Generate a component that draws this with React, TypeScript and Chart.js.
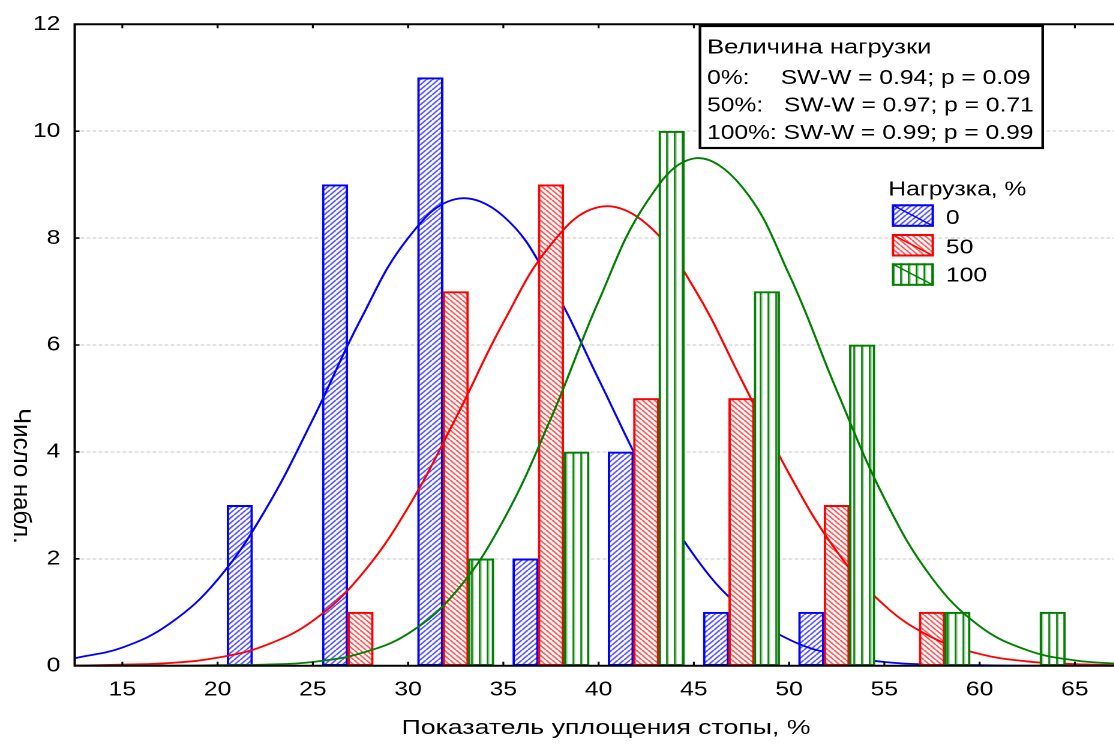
import { useEffect, useRef } from "react";
import { Chart, registerables } from "chart.js";

Chart.register(...registerables);

// Histogram bins (class midpoints, %) and observation counts per load group
const binCenters = [22.5, 27.5, 32.5, 37.5, 42.5, 47.5, 52.5, 57.5, 62.5];
const counts0 = [3, 9, 11, 2, 4, 1, 1, 0, 0];
const counts50 = [0, 1, 7, 9, 5, 5, 3, 1, 0];
const counts100 = [0, 0, 2, 4, 10, 7, 6, 1, 1];

// Fitted normal curves (expected counts)
const curveX = [12.5, 15, 17.5, 20, 22.5, 25, 27.5, 30, 32.5, 35, 37.5, 40, 42.5, 45, 47.5, 50, 52.5, 55, 57.5, 60, 62.5, 65, 67.5];
const fit0 = [0.14, 0.34, 0.79, 1.61, 2.91, 4.61, 6.47, 8.0, 8.73, 8.41, 7.15, 5.36, 3.55, 2.07, 1.07, 0.49, 0.2, 0.07, 0.02, 0.01, 0, 0, 0];
const fit50 = [0, 0.02, 0.05, 0.15, 0.38, 0.84, 1.68, 2.96, 4.63, 6.42, 7.88, 8.58, 8.27, 7.07, 5.35, 3.59, 2.14, 1.13, 0.53, 0.22, 0.08, 0.03, 0.01];
const fit100 = [0, 0, 0, 0.01, 0.02, 0.07, 0.23, 0.6, 1.38, 2.72, 4.63, 6.82, 8.66, 9.49, 8.97, 7.32, 5.15, 3.13, 1.64, 0.74, 0.29, 0.1, 0.03];

const xTicks = [15, 20, 25, 30, 35, 40, 45, 50, 55, 60, 65];
const yTicks = [0, 2, 4, 6, 8, 10, 12];

const groupLabels = ["0", "50", "100"];
const swGroups = ["0%:", "50%:", "100%:"];
const swW = ["0.94", "0.97", "0.99"];
const swP = ["0.09", "0.71", "0.99"];

const statsTitle = "Величина нагрузки";
const legendTitle = "Нагрузка, %";
const xTitle = "Показатель уплощения стопы, %";
const yTitle = "Число набл.";

const BLUE = "#0000ff";
const RED = "#ff0000";
const GREEN = "#008000";
const FONT = '"Liberation Sans", Arial, sans-serif';
const FS = 20.5;
const DPR = 2;
const STRETCH = 1.2;

// three bars side by side inside each 5-unit class
const slot = 4 / 3;

function makePattern(kind: "fwd" | "back" | "vert", color: string, w: number, h: number): CanvasPattern {
  const c = document.createElement("canvas");
  c.width = Math.round(w * DPR);
  c.height = Math.round(h * DPR);
  const g = c.getContext("2d")!;
  g.scale(DPR, DPR);
  g.fillStyle = "#ffffff";
  g.fillRect(0, 0, w, h);
  g.strokeStyle = color;
  if (kind === "vert") {
    g.lineWidth = 1.3;
    g.beginPath();
    g.moveTo(w / 2, 0);
    g.lineTo(w / 2, h);
    g.stroke();
    g.strokeStyle = "rgba(0,128,0,0.35)";
    g.lineWidth = 1;
    g.beginPath();
    g.moveTo(w / 2 + 1.2, 0);
    g.lineTo(w / 2 + 1.2, h);
    g.stroke();
  } else {
    g.lineWidth = 1.5;
    for (let i = -1; i <= 1; i++) {
      g.beginPath();
      if (kind === "fwd") {
        g.moveTo(i * w, h);
        g.lineTo(i * w + w, 0);
      } else {
        g.moveTo(i * w, 0);
        g.lineTo(i * w + w, h);
      }
      g.stroke();
    }
  }
  const ctx = document.createElement("canvas").getContext("2d")!;
  const p = ctx.createPattern(c, "repeat")!;
  p.setTransform(new DOMMatrix([1 / DPR, 0, 0, 1 / DPR, 0, 0]));
  return p;
}

function barPoints(counts: number[], offset: number) {
  return binCenters
    .map((c, i) => ({ x: c + offset, y: counts[i] }))
    .filter((p) => p.y > 0);
}

function curvePoints(vals: number[]) {
  return curveX.map((x, i) => ({ x, y: vals[i] }));
}

export default function App() {
  const ref = useRef<HTMLCanvasElement>(null);

  useEffect(() => {
    const patBlue = makePattern("fwd", "rgba(70,70,255,0.9)", 5, 5);
    const patRed = makePattern("back", "rgba(255,70,70,0.9)", 5, 5);
    const patGreen = makePattern("vert", GREEN, 6.5, 1);
    const pats = [patBlue, patRed, patGreen];
    const cols = [BLUE, RED, GREEN];

    const decor = {
      id: "decor",
      beforeDatasetsDraw(chart: any) {
        const { ctx, chartArea: a, scales } = chart;
        const y = scales.y;
        ctx.save();
        ctx.strokeStyle = "#c6c6c6";
        ctx.lineWidth = 1;
        ctx.setLineDash([3, 2]);
        for (const v of yTicks) {
          if (v === yTicks[0] || v === yTicks[yTicks.length - 1]) continue;
          const py = Math.round(y.getPixelForValue(v) * 2) / 2;
          ctx.beginPath();
          ctx.moveTo(a.left, py);
          ctx.lineTo(a.right, py);
          ctx.stroke();
        }
        ctx.restore();
      },
      afterDatasetsDraw(chart: any) {
        const { ctx, chartArea: a, scales } = chart;
        const x = scales.x;
        const y = scales.y;
        ctx.save();
        // frame: left, bottom, top
        ctx.strokeStyle = "#000";
        ctx.lineWidth = 2;
        ctx.beginPath();
        ctx.moveTo(a.left, a.top);
        ctx.lineTo(a.left, a.bottom);
        ctx.moveTo(a.left - 1, a.bottom);
        ctx.lineTo(a.right, a.bottom);
        ctx.moveTo(a.left - 1, a.top);
        ctx.lineTo(a.right, a.top);
        ctx.stroke();
        // inward tick marks
        ctx.lineWidth = 1.6;
        ctx.beginPath();
        for (const v of xTicks) {
          const px = x.getPixelForValue(v);
          ctx.moveTo(px, a.bottom);
          ctx.lineTo(px, a.bottom - 4);
          ctx.moveTo(px, a.top);
          ctx.lineTo(px, a.top + 4);
        }
        for (const v of yTicks) {
          const py = y.getPixelForValue(v);
          ctx.moveTo(a.left, py);
          ctx.lineTo(a.left + 4, py);
        }
        ctx.stroke();

        // statistics box
        const bx0 = 583.3, by0 = 26, bx1 = 868.9, by1 = 148;
        ctx.fillStyle = "#fff";
        ctx.fillRect(bx0, by0, bx1 - bx0, by1 - by0);
        ctx.lineWidth = 2.2;
        ctx.strokeStyle = "#000";
        ctx.strokeRect(bx0, by0, bx1 - bx0, by1 - by0);
        ctx.fillStyle = "#000";
        ctx.font = `${FS}px ${FONT}`;
        ctx.textAlign = "left";
        ctx.textBaseline = "alphabetic";
        ctx.save();
        ctx.translate(589.2, 53.3);
        ctx.scale(1.04, 1);
        ctx.fillText(statsTitle, 0, 0);
        ctx.restore();
        const rowY = [84, 111.7, 139];
        const swX = [650.6, 653.3, -1];
        swGroups.forEach((g, i) => {
          const txt = `SW-W = ${swW[i]}; p = ${swP[i]}`;
          if (swX[i] > 0) {
            ctx.fillText(g, 589.2, rowY[i]);
            ctx.fillText(txt, swX[i], rowY[i]);
          } else {
            ctx.fillText(`${g} ${txt}`, 589.2, rowY[i]);
          }
        });

        // legend
        ctx.fillText(legendTitle, 740.3, 195.7);
        const iconY = [204.3, 234, 263.3];
        const labY = [224, 253.3, 281.7];
        const ix0 = 743.2, ix1 = 778.3, ih = 22.5;
        groupLabels.forEach((lab, i) => {
          ctx.fillStyle = pats[i];
          ctx.fillRect(ix0, iconY[i], ix1 - ix0, ih);
          ctx.strokeStyle = cols[i];
          ctx.lineWidth = 2;
          ctx.strokeRect(ix0 + 1, iconY[i] + 1, ix1 - ix0 - 2, ih - 2);
          ctx.lineWidth = 1.4;
          ctx.beginPath();
          ctx.moveTo(ix0 + 1, iconY[i] + 1);
          ctx.lineTo(ix1 - 1, iconY[i] + ih - 1);
          ctx.stroke();
          ctx.fillStyle = "#000";
          ctx.fillText(lab, 788.3, labY[i]);
        });

        // axis titles
        ctx.textAlign = "center";
        ctx.save();
        ctx.translate(505, 734);
        ctx.scale(1.085, 1);
        ctx.fillText(xTitle, 0, 0);
        ctx.restore();
        ctx.save();
        ctx.translate(17, 476);
        ctx.rotate(Math.PI / 2);
        ctx.scale(1, 0.854);
        ctx.font = `24px ${FONT}`;
        ctx.textBaseline = "middle";
        ctx.fillText(yTitle, 0, 0);
        ctx.restore();
        ctx.restore();
      },
    };

    const barDs = (label: string, counts: number[], off: number, i: number, order: number) => ({
      type: "bar" as const,
      label,
      data: barPoints(counts, off),
      backgroundColor: pats[i],
      borderColor: cols[i],
      borderWidth: 2,
      borderSkipped: false,
      grouped: false,
      barPercentage: 1,
      categoryPercentage: 1,
      order,
    });
    const lineDs = (label: string, vals: number[], i: number, order: number) => ({
      type: "line" as const,
      label,
      data: curvePoints(vals),
      borderColor: cols[i],
      borderWidth: 1.8,
      pointRadius: 0,
      fill: false,
      tension: 0.4,
      order,
    });

    const chart = new Chart(ref.current!, {
      type: "bar",
      data: {
        datasets: [
          barDs("0", counts0, -slot, 0, 6),
          lineDs("0 fit", fit0, 0, 5),
          barDs("50", counts50, 0, 1, 4),
          lineDs("50 fit", fit50, 1, 3),
          barDs("100", counts100, slot, 2, 2),
          lineDs("100 fit", fit100, 2, 1),
        ] as any,
      },
      options: {
        responsive: false,
        animation: false,
        devicePixelRatio: DPR,
        layout: { padding: { top: 23.3, right: 0.6, left: 0, bottom: 0 } },
        plugins: { legend: { display: false }, tooltip: { enabled: false } },
        scales: {
          x: {
            type: "linear",
            min: 12.5,
            max: 67.5,
            offset: false,
            grid: { display: false, drawTicks: false, offset: false },
            border: { display: false },
            afterBuildTicks: (s: any) => {
              s.ticks = xTicks.map((value) => ({ value }));
            },
            afterFit: (s: any) => {
              s.height = 79.3;
            },
            ticks: {
              color: "#000",
              font: { family: FONT, size: FS },
              padding: 12,
              maxRotation: 0,
              autoSkip: false,
            },
          },
          y: {
            type: "linear",
            min: 0,
            max: 12,
            grid: { display: false, drawTicks: false },
            border: { display: false },
            afterBuildTicks: (s: any) => {
              s.ticks = yTicks.map((value) => ({ value }));
            },
            afterFit: (s: any) => {
              s.width = 62.25;
            },
            ticks: {
              color: "#000",
              font: { family: FONT, size: FS },
              padding: 12,
            },
          },
        },
      },
      plugins: [decor],
    });
    return () => chart.destroy();
  }, []);

  return (
    <div
      style={{
        position: "absolute",
        left: 0,
        top: 0,
        width: 1114,
        height: 745,
        overflow: "hidden",
        background: "#fff",
      }}
    >
      <canvas
        ref={ref}
        width={936}
        height={745}
        style={{
          width: 936,
          height: 745,
          display: "block",
          transform: `scaleX(${STRETCH})`,
          transformOrigin: "0 0",
        }}
      />
    </div>
  );
}
